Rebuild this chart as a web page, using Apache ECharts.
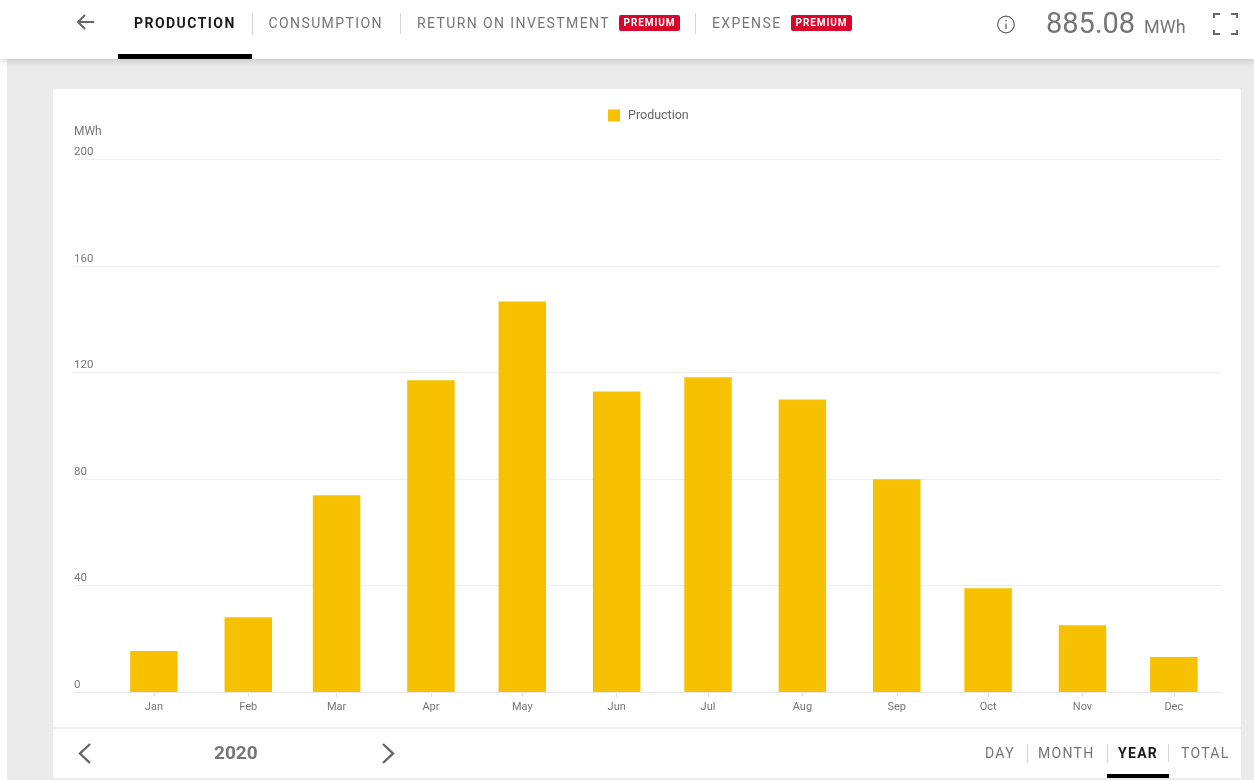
<!DOCTYPE html>
<html>
<head>
<meta charset="utf-8">
<script src="https://cdn.jsdelivr.net/npm/echarts@6/dist/echarts.min.js"></script>
<style>
html,body{margin:0;padding:0;width:1254px;height:780px;overflow:hidden;background:#fff;font-family:Roboto,sans-serif}
#bg{position:absolute;left:7px;top:59px;width:1247px;height:721px;background:#ebebeb}
#card{position:absolute;left:53px;top:89px;width:1188px;height:689px;background:#fff}
#divider{position:absolute;left:53px;top:727px;width:1188px;height:2px;background:#eeeeee}
#head{position:absolute;left:0;top:0;width:1254px;height:59px;background:#fff;box-shadow:0 2px 7px rgba(0,0,0,.16)}
#chart{position:absolute;left:0;top:0;width:1254px;height:780px}
.t{position:absolute;white-space:nowrap;color:#757575;line-height:1;z-index:3}
.tab{font-size:14px;letter-spacing:1.4px}
.b{font-weight:700;color:#1a1a1a}
.sep{position:absolute;width:1px;background:#d4d4d4;z-index:3}
.bar{position:absolute;background:#000;z-index:3}
.badge{position:absolute;background:#d9042b;color:#fff;font-size:10px;font-weight:700;letter-spacing:.9px;text-align:center;border-radius:2px;z-index:3;height:16px;line-height:16px}
svg{position:absolute;z-index:3;overflow:visible}
</style>
</head>
<body>
<div id="bg"></div><div id="card"></div><div id="divider"></div><div id="head"></div>
<div id="chart"></div>

<svg style="left:0;top:0" width="1254" height="780" fill="none" stroke="#666" stroke-width="2">
  <path d="M94 22H78M85 15l-7 7 7 7"/>
  <circle cx="1006" cy="24.500" r="8.300" stroke-width="1.200"/>
  <path d="M1006 23.500v5.500M1006 20v1.600" stroke-width="1.300"/>
  <path d="M1214 18v-4h6M1231 14h6v4M1214 30v4h6M1231 34h6v-4" stroke-width="2"/>
  <path d="M90 744l-10 9.500 10 9.500M383 744l10 9.500-10 9.500" stroke-width="2.400"/>
</svg>

<div class="t tab b" style="left:134px;top:16px;letter-spacing:1.45px">PRODUCTION</div>
<div class="t tab" style="left:268.500px;top:16px">CONSUMPTION</div>
<div class="t tab" style="left:417px;top:16px">RETURN ON INVESTMENT</div>
<div class="badge" style="left:619px;top:15px;width:61px">PREMIUM</div>
<div class="t tab" style="left:712px;top:16px">EXPENSE</div>
<div class="badge" style="left:791px;top:15px;width:61px">PREMIUM</div>
<div class="sep" style="left:252px;top:13px;height:21px"></div>
<div class="sep" style="left:400px;top:13px;height:21px"></div>
<div class="sep" style="left:695px;top:13px;height:21px"></div>
<div class="bar" style="left:118px;top:54px;width:134px;height:5px"></div>
<div class="t" style="left:1046px;top:9px;font-size:29px">885.08</div>
<div class="t" style="left:1144px;top:18px;font-size:18px">MWh</div>

<div class="t" style="left:214px;top:743px;font-size:19px;font-weight:700">2020</div>
<div class="t" style="left:985px;top:746px;font-size:14px;letter-spacing:1.300px">DAY</div>
<div class="t" style="left:1038px;top:746px;font-size:14px;letter-spacing:1.300px">MONTH</div>
<div class="t b" style="left:1118px;top:746px;font-size:14px;letter-spacing:1.300px">YEAR</div>
<div class="t" style="left:1181px;top:746px;font-size:14px;letter-spacing:1.300px">TOTAL</div>
<div class="sep" style="left:1027px;top:744px;height:18px"></div>
<div class="sep" style="left:1107px;top:744px;height:18px"></div>
<div class="sep" style="left:1168px;top:744px;height:18px"></div>
<div class="bar" style="left:1107px;top:774px;width:62px;height:4px"></div>

<script>
const months = ['Jan','Feb','Mar','Apr','May','Jun','Jul','Aug','Sep','Oct','Nov','Dec'];
const monthStarts = ['2020-01-01','2020-02-01','2020-03-01','2020-04-01','2020-05-01','2020-06-01','2020-07-01','2020-08-01','2020-09-01','2020-10-01','2020-11-01','2020-12-01'];
const production = [15.4,28.1,73.9,117.1,146.7,112.9,118.2,109.9,79.9,39.0,25.1,13.1];
const yTicks = [0,40,80,120,160,200];

const times = monthStarts.map(d => Date.parse(d));
const chart = echarts.init(document.getElementById('chart'), null, {renderer:'canvas'});
chart.setOption({
  animation:false,
  textStyle:{fontFamily:'Roboto, sans-serif'},
  legend:{
    left:603, top:104, itemWidth:12, itemHeight:12, icon:'rect', itemGap:8,
    textStyle:{color:'#666',fontSize:12.5,fontFamily:'Roboto',padding:[0,0,0,3]},
    data:['Production']
  },
  grid:{left:74,right:33,top:159.5,bottom:88,containLabel:false},
  xAxis:{
    type:'value',
    min:Date.parse('2019-12-05T18:00:00Z'),
    max:Date.parse('2020-12-16T12:00:00Z'),
    splitLine:{show:false},
    axisLine:{onZero:false,lineStyle:{color:'#e6e6e6'}},
    axisTick:{show:true,length:5,lineStyle:{color:'#e6e6e6'},customValues:times},
    axisLabel:{
      color:'#777',fontSize:11,margin:10,showMinLabel:true,showMaxLabel:true,hideOverlap:false,
      customValues:times,
      formatter:v => months[times.indexOf(+v)] || ''
    }
  },
  yAxis:{
    type:'value',min:0,max:200,interval:40,
    name:'MWh',nameLocation:'end',nameGap:22,
    nameTextStyle:{align:'left',color:'#777',fontSize:12,padding:[0,0,0,0]},
    axisLine:{show:false},axisTick:{show:false},
    splitLine:{lineStyle:{color:'#eeeeee'}},
    axisLabel:{
      inside:true,margin:0,color:'#777',fontSize:11.5,verticalAlign:'bottom',padding:[0,0,1,0],
      customValues:yTicks
    }
  },
  series:[{
    name:'Production',type:'bar',barWidth:47.5,
    itemStyle:{color:'#f6c100'},
    data:times.map((t,i)=>[t,production[i]])
  }]
});
</script>
</body>
</html>
